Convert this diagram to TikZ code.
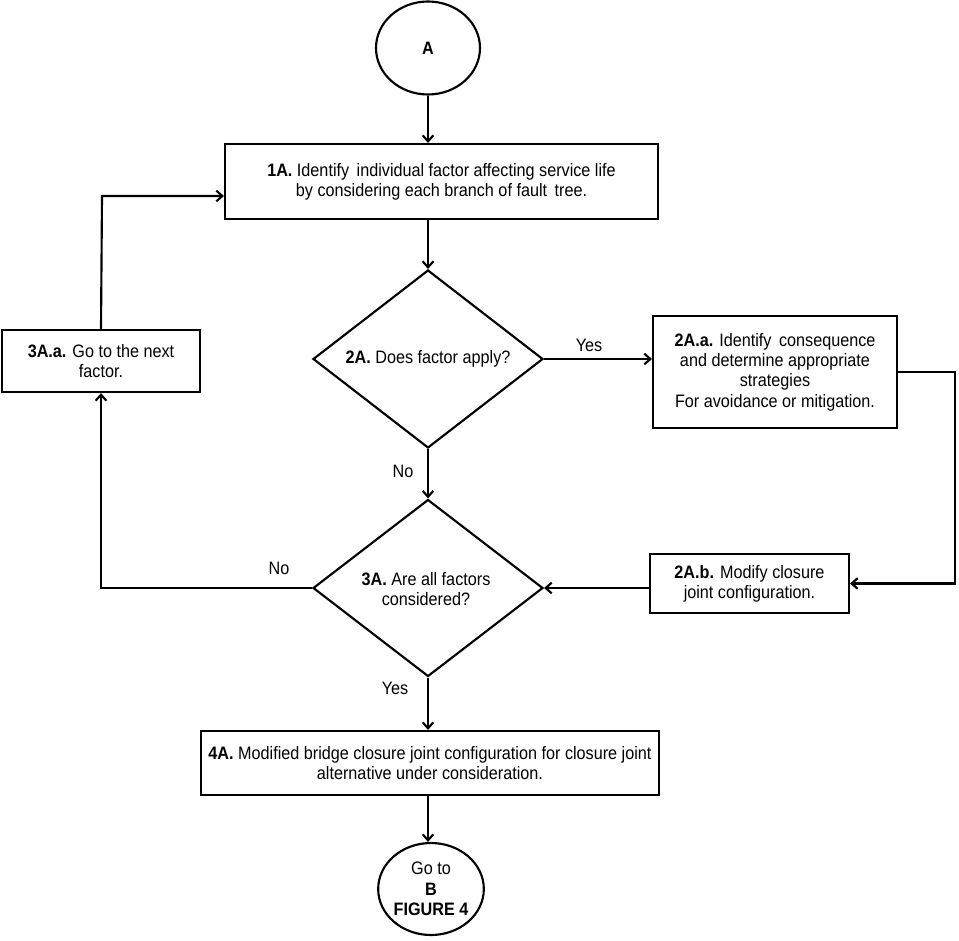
\documentclass[tikz,border=0pt]{standalone}
\usepackage{fontspec}
\setmainfont[FakeStretch=0.9]{Liberation Sans}
\usetikzlibrary{shapes.geometric,arrows.meta}
\begin{document}
\begin{tikzpicture}[x=0.75pt,y=-0.75pt,
  line width=1.6pt,
  every node/.style={font=\fontsize{13.5}{15.2}\selectfont, align=center},
  box/.style={draw, rectangle, inner sep=0pt},
  oval/.style={draw, ellipse, inner sep=0pt},
  dia/.style={draw, diamond, inner sep=0pt},
  arr/.style={-{Straight Barb[length=4.5pt,width=8pt]}},
  lbl/.style={inner sep=0pt}]
\useasboundingbox (0,0) rectangle (959,941);
\def\px{0.75pt}
% nodes
\node[oval, minimum width=104*\px, minimum height=93*\px] (A) at (428,48) {\textbf{A}};
\node[box, minimum width=433*\px, minimum height=75*\px] (n1A) at (441.5,181.5)
  {\textbf{1A.} Identify\, individual factor affecting service life\\by considering each branch of fault\, tree.};
\node[dia, minimum width=230*\px, minimum height=178*\px] (d2A) at (428,359) {};
\node[lbl] (t2A) at (428,359) {\textbf{2A.} Does factor apply?};
\node[box, minimum width=244*\px, minimum height=112*\px] (n2Aa) at (775,372)
  {\textbf{2A.a.} Identify\, consequence\\and determine appropriate\\strategies\\For avoidance or mitigation.};
\node[box, minimum width=198*\px, minimum height=62*\px] (n3Aa) at (101,361)
  {\textbf{3A.a.} Go to the next\\factor.};
\node[dia, minimum width=230*\px, minimum height=177*\px] (d3A) at (428,588) {};
\node[lbl] (t3A) at (426,589) {\textbf{3A.} Are all factors\\considered?};
\node[box, minimum width=199*\px, minimum height=59*\px] (n2Ab) at (749.5,583.5)
  {\textbf{2A.b.} Modify closure\\joint configuration.};
\node[box, minimum width=458*\px, minimum height=64*\px] (n4A) at (430,763)
  {\textbf{4A.} Modified bridge closure joint configuration for closure joint\\alternative under consideration.};
\node[oval, minimum width=93*\px, minimum height=92*\px] (B) at (431,889)
  {Go to\\\textbf{B}\\\textbf{FIGURE 4}};
% labels
\node[lbl] (yes1) at (589,345) {Yes};
\node[lbl] (no1) at (403,471) {No};
\node[lbl] (no2) at (279,568) {No};
\node[lbl] (yes2) at (395,688) {Yes};
% helper coordinates
\coordinate (rt) at (955,372);
\coordinate (lp) at (102,196);
% connectors
\draw[arr] (A.south) -- (A.south |- n1A.north);
\draw[arr] (n1A.south -| d2A.north) -- (d2A.north);
\draw[arr] (d2A.east) -- (d2A.east -| n2Aa.west);
\draw[arr] (d2A.south) -- (d3A.north);
\draw[arr] (n2Aa.east |- rt) -- (rt) -- (rt |- n2Ab.east) -- (n2Ab.east);
\draw[arr] (n2Ab.west |- d3A.east) -- (d3A.east);
\draw[arr] (d3A.west) -| (n3Aa.south);
\draw[arr] (n3Aa.north) -- (lp) -- (lp -| n1A.west);
\draw[arr] (d3A.south) -- (d3A.south |- n4A.north);
\draw[arr] (d3A.south |- n4A.south) -- (d3A.south |- B.north);
\end{tikzpicture}
\end{document}
